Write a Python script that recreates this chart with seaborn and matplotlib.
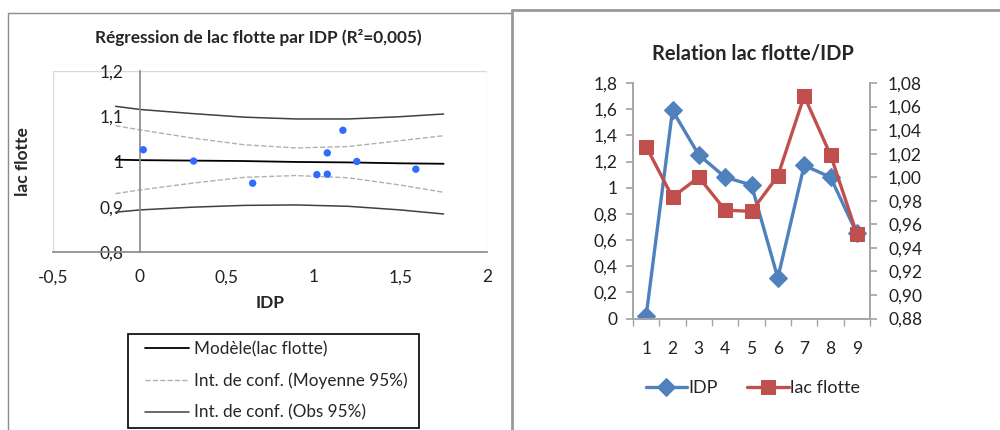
import matplotlib

matplotlib.use("Agg")
import matplotlib.pyplot as plt
from matplotlib.lines import Line2D
from matplotlib.patches import Rectangle
from matplotlib.ticker import FuncFormatter, FixedLocator
import pandas as pd
import seaborn as sns

# --- data ------------------------------------------------------------------
OBS = [1, 2, 3, 4, 5, 6, 7, 8, 9]
IDP = [0.02, 1.59, 1.25, 1.08, 1.02, 0.31, 1.17, 1.08, 0.65]
LAC_FLOTTE = [1.026, 0.983, 1.000, 0.972, 0.971, 1.001, 1.069, 1.019, 0.952]

# regression curves (Excel output), sampled along IDP
CURVE_X = [-0.14, 0.0, 0.3, 0.6, 0.9, 1.2, 1.5, 1.75]
MODEL_Y = [1.004, 1.003, 1.002, 1.001, 0.999, 0.998, 0.996, 0.995]
MEAN_HI = [1.079, 1.070, 1.052, 1.037, 1.030, 1.033, 1.046, 1.057]
MEAN_LO = [0.929, 0.937, 0.952, 0.965, 0.969, 0.964, 0.948, 0.932]
OBS_HI = [1.122, 1.115, 1.106, 1.098, 1.094, 1.094, 1.099, 1.105]
OBS_LO = [0.888, 0.893, 0.899, 0.903, 0.904, 0.901, 0.893, 0.884]

LEFT_TITLE = "Régression de lac flotte par IDP (R²=0,005)"
RIGHT_TITLE = "Relation lac flotte/IDP"
LEGEND_LABELS = ["Modèle(lac flotte)", "Int. de conf. (Moyenne 95%)", "Int. de conf. (Obs 95%)"]

BLUE = "#4F81BD"
RED = "#C0504D"
DOT = "#2F6BFF"

W, H = 1000, 430


def fx(px):
    return px / W


def fy(py):
    return 1 - py / H


def comma(fmt):
    def f(v, _pos):
        if fmt is None:
            s = f"{v:g}"
        else:
            s = format(v, fmt)
        return s.replace(".", ",")
    return FuncFormatter(f)


sns.set_theme(style="white")
plt.rcParams["font.family"] = ["Lato", "DejaVu Sans"]

fig = plt.figure(figsize=(W / 100, H / 100), dpi=100)

# panel frames
fig.add_artist(Line2D([fx(8), fx(8)], [fy(13), fy(432)], color="#8c8c8c", lw=1))
fig.add_artist(Line2D([fx(8), fx(511)], [fy(13), fy(13)], color="#8c8c8c", lw=1))
fig.add_artist(Line2D([fx(512), fx(512)], [fy(10), fy(432)], color="#999999", lw=2))
fig.add_artist(Line2D([fx(512), fx(1002)], [fy(10), fy(10)], color="#999999", lw=2))

# --- left: regression ---------------------------------------------------------
ax = fig.add_axes([fx(53), fy(252), fx(434), 181 / H])
ax.add_patch(Rectangle((0, 0), 1, 1, transform=ax.transAxes, fill=False,
                       edgecolor="#d9d9d9", lw=1, zorder=0))

curves = pd.DataFrame({"x": CURVE_X, "model": MODEL_Y, "mean_hi": MEAN_HI,
                       "mean_lo": MEAN_LO, "obs_hi": OBS_HI, "obs_lo": OBS_LO})
for col, color, ls, lw in [("obs_hi", "#404040", "-", 1.1), ("obs_lo", "#404040", "-", 1.1),
                           ("mean_hi", "#b0b0b0", "--", 1.0), ("mean_lo", "#b0b0b0", "--", 1.0),
                           ("model", "black", "-", 1.3)]:
    sns.lineplot(data=curves, x="x", y=col, color=color, linestyle=ls, lw=lw,
                 sort=False, estimator=None, ax=ax, legend=False)

points = pd.DataFrame({"IDP": IDP, "lac flotte": LAC_FLOTTE})
sns.scatterplot(data=points, x="IDP", y="lac flotte", color=DOT, s=28,
                edgecolor="none", ax=ax, zorder=5, legend=False)

ax.set_xlim(-0.5, 2)
ax.set_ylim(0.8, 1.2)
ax.set_xticks([-0.5, 0, 0.5, 1, 1.5, 2])
ax.set_yticks([0.8, 0.9, 1.0, 1.1, 1.2])
ax.xaxis.set_major_formatter(comma(None))
ax.yaxis.set_major_formatter(comma(None))
for side in ("top", "right"):
    ax.spines[side].set_visible(False)
ax.spines["left"].set_position(("data", 0))
ax.spines["left"].set_color("#8c8c8c")
ax.spines["bottom"].set_color("#8c8c8c")
ax.tick_params(axis="both", direction="inout", length=9, width=1, color="#8c8c8c",
               labelsize=12.5, labelcolor="#222222")
ax.tick_params(axis="x", pad=8)
ax.tick_params(axis="y", pad=7)
ax.set_xlabel("IDP", fontsize=12.5, fontweight="bold")
ax.set_ylabel("lac flotte", fontsize=12.5, fontweight="bold")
ax.xaxis.set_label_coords(0.5, -0.24)
ax.yaxis.set_label_coords(-0.05, 0.5)
fig.text(fx(258), fy(38), LEFT_TITLE, ha="center", va="center", fontsize=12.4,
         fontweight="bold")

# legend box
fig.add_artist(Rectangle((fx(128), fy(428)), fx(291), (428 - 334) / H,
                         transform=fig.transFigure, fill=False, edgecolor="black", lw=1.2))
handles = [Line2D([], [], color="black", lw=1.3),
           Line2D([], [], color="#b0b0b0", lw=1.0, ls="--"),
           Line2D([], [], color="#404040", lw=1.1)]
fig.legend(handles, LEGEND_LABELS, loc="upper left", bbox_to_anchor=(fx(145), fy(341)),
           frameon=False, fontsize=12.3, handlelength=2.55, handletextpad=0.3,
           labelspacing=0.9, borderaxespad=0, borderpad=0)

# --- right: two series over observation number --------------------------------
axr = fig.add_axes([fx(633), fy(318.5), fx(237), 235.5 / H])
series = pd.DataFrame({"obs": OBS, "IDP": IDP, "lac flotte": LAC_FLOTTE})
sns.lineplot(data=series, x="obs", y="IDP", color=BLUE, lw=2.4, marker="D",
             markersize=9, markeredgecolor=BLUE, ax=axr, label="IDP", legend=False)
axr2 = axr.twinx()
sns.lineplot(data=series, x="obs", y="lac flotte", color=RED, lw=2.4, marker="s",
             markersize=9.5, markeredgecolor=RED, ax=axr2, label="lac flotte", legend=False)

axr.set_xlim(0.5, 9.5)
axr.set_ylim(0, 1.8)
axr2.set_ylim(0.88, 1.08)
axr.set_yticks([0, 0.2, 0.4, 0.6, 0.8, 1.0, 1.2, 1.4, 1.6, 1.8])
axr2.set_yticks([0.88, 0.90, 0.92, 0.94, 0.96, 0.98, 1.00, 1.02, 1.04, 1.06, 1.08])
axr.yaxis.set_major_formatter(comma(None))
axr2.yaxis.set_major_formatter(comma(".2f"))
axr.set_xticks(OBS)
axr.set_xticklabels([str(o) for o in OBS])
axr.xaxis.set_minor_locator(FixedLocator([o + 0.5 for o in [0] + OBS]))
axr.set_xlabel("")
axr.set_ylabel("")
axr2.set_ylabel("")
for a in (axr, axr2):
    a.spines["top"].set_visible(False)
    for side in ("left", "right", "bottom"):
        a.spines[side].set_color("#a6a6a6")
axr.tick_params(axis="x", which="major", length=0, pad=16, labelsize=12.5,
                labelcolor="#222222")
axr.tick_params(axis="x", which="minor", bottom=True, length=5, color="#a6a6a6",
                direction="out")
axr.tick_params(axis="y", left=True, length=5, color="#a6a6a6", direction="out",
                pad=6, labelsize=12.5, labelcolor="#222222")
axr2.tick_params(axis="y", right=True, length=5, color="#a6a6a6", direction="out",
                 pad=8, labelsize=12.5, labelcolor="#222222")
fig.text(fx(753), fy(53), RIGHT_TITLE, ha="center", va="center", fontsize=14.5,
         fontweight="bold")

h1, l1 = axr.get_legend_handles_labels()
h2, l2 = axr2.get_legend_handles_labels()
fig.legend(h1 + h2, l1 + l2, loc="center", bbox_to_anchor=(fx(753), fy(388)), ncol=2,
           frameon=False, fontsize=13, handlelength=2.3, handletextpad=0.1,
           columnspacing=1.6)

fig.savefig("out.png", dpi=100)
